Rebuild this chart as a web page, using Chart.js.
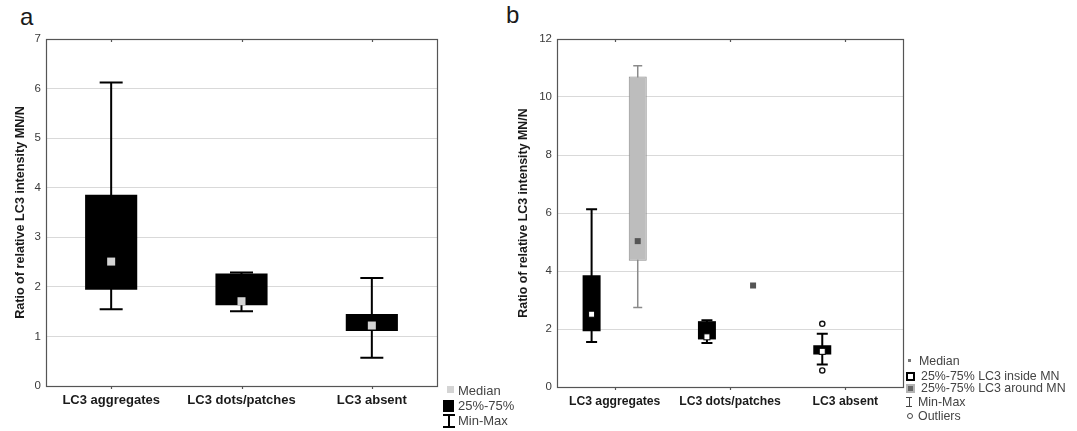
<!DOCTYPE html>
<html>
<head>
<meta charset="utf-8">
<script src="https://cdn.jsdelivr.net/npm/chart.js@4.4.0/dist/chart.umd.min.js"></script>
<style>
  body { margin: 0; background: #fff; font-family: 'Liberation Sans', Arial, sans-serif; }
  #wrap { position: relative; width: 1077px; height: 431px; overflow: hidden; }
  #wrap canvas { position: absolute; top: 0; }
  .panel { position: absolute; font-size: 24px; color: #1a1a1a; line-height: 1; }
  .lg { position: absolute; color: #444; white-space: nowrap; line-height: 1; }
  .ic { position: absolute; box-sizing: border-box; }
</style>
</head>
<body>
<div id="wrap">
  <div class="panel" style="left:20px;top:5px;">a</div>
  <div class="panel" style="left:506px;top:3px;">b</div>
  <canvas id="chartA" width="440" height="431" style="left:0;"></canvas>
  <canvas id="chartB" width="420" height="431" style="left:490px;"></canvas>

  <!-- legend a -->
  <div class="ic" style="left:447px;top:386px;width:7px;height:7px;background:#d4d4d4;"></div>
  <div class="lg" style="left:458px;top:384px;font-size:13px;">Median</div>
  <div class="ic" style="left:443px;top:400px;width:11px;height:12px;background:#000;"></div>
  <div class="lg" style="left:458px;top:399px;font-size:13px;">25%-75%</div>
  <div class="ic" style="left:443px;top:414px;width:12px;height:2px;background:#000;"></div>
  <div class="ic" style="left:448px;top:414px;width:2px;height:14px;background:#000;"></div>
  <div class="ic" style="left:443px;top:426px;width:12px;height:2px;background:#000;"></div>
  <div class="lg" style="left:458px;top:414px;font-size:13px;">Min-Max</div>

  <!-- legend b -->
  <div class="ic" style="left:908px;top:359px;width:3px;height:3px;background:#777;"></div>
  <div class="lg" style="left:919px;top:355px;font-size:12.4px;">Median</div>
  <div class="ic" style="left:906px;top:372px;width:9px;height:9px;border:2.5px solid #000;background:#fff;"></div>
  <div class="lg" style="left:921px;top:370px;font-size:12.4px;">25%-75% LC3 inside MN</div>
  <div class="ic" style="left:906px;top:384px;width:9px;height:9px;border:2.5px solid #b3b3b3;background:#666;"></div>
  <div class="lg" style="left:921px;top:382px;font-size:12.4px;">25%-75% LC3 around MN</div>
  <div class="ic" style="left:906px;top:397px;width:6px;height:1px;background:#444;"></div>
  <div class="ic" style="left:908.5px;top:397px;width:1px;height:10px;background:#444;"></div>
  <div class="ic" style="left:906px;top:406px;width:6px;height:1px;background:#444;"></div>
  <div class="lg" style="left:918px;top:396px;font-size:12.4px;">Min-Max</div>
  <div class="ic" style="left:907px;top:413px;width:6px;height:6px;border:1.5px solid #444;border-radius:50%;"></div>
  <div class="lg" style="left:918px;top:410px;font-size:12.4px;">Outliers</div>
</div>

<script>
// categories
const categories = ['LC3 aggregates', 'LC3 dots/patches', 'LC3 absent'];

// panel a
const aMin    = [1.55, 1.51, 0.57];
const aQ1     = [1.94, 1.63, 1.11];
const aMedian = [2.51, 1.71, 1.22];
const aQ3     = [3.86, 2.27, 1.45];
const aMax    = [6.12, 2.29, 2.18];

// panel b - LC3 inside MN
const inMin      = [1.55, 1.52, 0.78];
const inQ1       = [1.92, 1.64, 1.12];
const inMedian   = [2.51, 1.73, 1.23];
const inQ3       = [3.85, 2.27, 1.44];
const inMax      = [6.13, 2.30, 1.84];
const inOutliers = [[], [], [2.18, 0.57]];

// panel b - LC3 around MN
const aroundMin    = [2.74, null, null];
const aroundQ1     = [4.35, null, null];
const aroundMedian = [5.03, 3.50, null];
const aroundQ3     = [10.71, null, null];
const aroundMax    = [11.08, null, null];

const FONT = "'Liberation Sans', Arial, sans-serif";
const yTitle = 'Ratio of relative LC3 intensity MN/N';

// whiskers, medians, outliers and the plot frame
const boxExtras = {
  id: 'boxExtras',
  beforeDatasetsDraw(chart, args, opts) {
    const ctx = chart.ctx;
    const ys = chart.scales.y;
    opts.groups.forEach(g => {
      const xs = xPositions(chart, g.dataset);
      ctx.save();
      ctx.strokeStyle = g.whiskerColor;
      ctx.lineWidth = g.whiskerWidth;
      g.min.forEach((mn, i) => {
        const mx = g.max[i];
        if (mn == null || mx == null) return;
        const x = xs[i];
        const y0 = ys.getPixelForValue(mn), y1 = ys.getPixelForValue(mx);
        const hw = g.capWidth / 2;
        ctx.beginPath();
        ctx.moveTo(x, y0); ctx.lineTo(x, y1);
        ctx.moveTo(x - hw, y0); ctx.lineTo(x + hw, y0);
        ctx.moveTo(x - hw, y1); ctx.lineTo(x + hw, y1);
        ctx.stroke();
      });
      ctx.restore();
    });
  },
  afterDatasetsDraw(chart, args, opts) {
    const ctx = chart.ctx;
    const ys = chart.scales.y;
    opts.groups.forEach(g => {
      const xs = xPositions(chart, g.dataset);
      ctx.save();
      g.median.forEach((m, i) => {
        if (m == null) return;
        const s = g.medianSize;
        const x = xs[i], y = ys.getPixelForValue(m);
        ctx.fillStyle = g.medianColor;
        ctx.fillRect(x - s / 2, y - s / 2, s, s);
        if (g.medianBorder) {
          ctx.strokeStyle = g.medianBorder;
          ctx.lineWidth = 1;
          ctx.strokeRect(x - s / 2, y - s / 2, s, s);
        }
      });
      (g.outliers || []).forEach((list, i) => {
        list.forEach(v => {
          ctx.beginPath();
          ctx.arc(xs[i], ys.getPixelForValue(v), 2.6, 0, Math.PI * 2);
          ctx.fillStyle = '#fff';
          ctx.fill();
          ctx.strokeStyle = '#111';
          ctx.lineWidth = 1.4;
          ctx.stroke();
        });
      });
      ctx.restore();
    });
    // frame
    const a = chart.chartArea;
    const xsc = chart.scales.x;
    ctx.save();
    ctx.strokeStyle = '#555';
    ctx.lineWidth = 1.2;
    ctx.strokeRect(Math.round(a.left) + 0.5, Math.round(a.top) + 0.5,
                   Math.round(a.right - a.left), Math.round(a.bottom - a.top));
    ctx.beginPath();
    categories.forEach((c, i) => {
      const x = Math.round(xsc.getPixelForValue(i)) + 0.5;
      ctx.moveTo(x, a.top); ctx.lineTo(x, a.top + 3);
      ctx.moveTo(x, a.bottom); ctx.lineTo(x, a.bottom + 3);
    });
    ctx.stroke();
    ctx.restore();
  }
};

function xPositions(chart, datasetIndex) {
  const meta = chart.getDatasetMeta(datasetIndex);
  const xsc = chart.scales.x;
  const dx = meta.data[0].x - xsc.getPixelForValue(0);
  return categories.map((c, i) => xsc.getPixelForValue(i) + dx);
}

function floating(lo, hi) {
  return lo.map((v, i) => (v == null ? null : [v, hi[i]]));
}

function baseOptions(yMax, yStep, yWidth, pad, xHeight, titlePad, fonts, extras) {
  return {
    responsive: false,
    animation: false,
    layout: { padding: pad },
    plugins: {
      legend: { display: false },
      tooltip: { enabled: false },
      boxExtras: extras
    },
    scales: {
      x: {
        grid: { display: false, drawTicks: false },
        border: { display: false },
        ticks: { color: '#1a1a1a', padding: 7, font: { family: FONT, size: fonts.x, weight: 'bold' } },
        afterFit(s) { s.height = xHeight; }
      },
      y: {
        min: 0, max: yMax,
        grid: { color: '#d9d9d9', drawTicks: false },
        border: { display: false },
        ticks: { stepSize: yStep, color: '#3a3a3a', padding: 5, font: { family: FONT, size: 11.5 } },
        title: { display: true, text: yTitle, color: '#1a1a1a', padding: { top: titlePad, bottom: 0 },
                 font: { family: FONT, size: fonts.title, weight: 'bold' } },
        afterFit(s) { s.width = yWidth; }
      }
    }
  };
}

new Chart(document.getElementById('chartA'), {
  type: 'bar',
  data: {
    labels: categories,
    datasets: [{
      data: floating(aQ1, aQ3),
      backgroundColor: '#000',
      borderWidth: 0,
      barPercentage: 0.4,
      categoryPercentage: 1.0
    }]
  },
  options: baseOptions(7, 1, 46, { top: 39, right: 3, left: 0, bottom: 0 }, 45, 13, { x: 13, title: 12.6 }, {
    groups: [{
      dataset: 0, min: aMin, max: aMax, median: aMedian,
      whiskerColor: '#000', whiskerWidth: 2, capWidth: 23,
      medianColor: '#d4d4d4', medianSize: 8
    }]
  }),
  plugins: [boxExtras]
});

new Chart(document.getElementById('chartB'), {
  type: 'bar',
  data: {
    labels: categories,
    datasets: [{
      data: floating(inQ1, inQ3),
      backgroundColor: '#000',
      borderWidth: 0,
      barPercentage: 0.39,
      categoryPercentage: 0.8
    }, {
      data: floating(aroundQ1, aroundQ3),
      backgroundColor: '#bdbdbd',
      borderColor: '#8a8a8a',
      borderWidth: 1,
      borderSkipped: false,
      barPercentage: 0.39,
      categoryPercentage: 0.8
    }]
  },
  options: baseOptions(12, 2, 67, { top: 39, right: 7, left: 0, bottom: 0 }, 44, 26, { x: 12.2, title: 12.4 }, {
    groups: [{
      dataset: 0, min: inMin, max: inMax, median: inMedian, outliers: inOutliers,
      whiskerColor: '#000', whiskerWidth: 2, capWidth: 11,
      medianColor: '#fff', medianBorder: '#000', medianSize: 6
    }, {
      dataset: 1, min: aroundMin, max: aroundMax, median: aroundMedian,
      whiskerColor: '#8a8a8a', whiskerWidth: 1.5, capWidth: 9,
      medianColor: '#555', medianSize: 6
    }]
  }),
  plugins: [boxExtras]
});
</script>
</body>
</html>
